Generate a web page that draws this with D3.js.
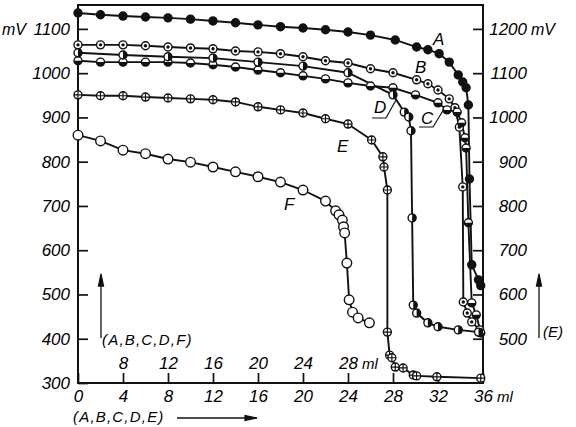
<!DOCTYPE html>
<html>
<head>
<meta charset="utf-8">
<script src="https://cdnjs.cloudflare.com/ajax/libs/d3/7.8.5/d3.min.js"></script>
<style>
  body { margin: 0; background: #fff; }
  svg text { font-family: "Liberation Sans", Arial, sans-serif; font-style: italic; fill: #000; }
</style>
</head>
<body>
<div id="main-canvas"></div>
<script>
// Titration curves, values
// A-D and F: left mV scale, E: right mV scale
// A-E: lower ml scale, F: inner ml scale (shifted by 4 ml)

let mlA = [0, 2, 4, 6, 8, 10, 12, 14, 16, 18, 20, 22, 24, 26, 28.2, 30.1, 31.1, 32.1, 33, 33.8, 34.2, 34.5, 34.7, 34.8, 35, 35.6, 35.8]
let mvA = [1136, 1132, 1129, 1127, 1125, 1122, 1118, 1114, 1109, 1105, 1102, 1098, 1093, 1086, 1075, 1059, 1053, 1044, 1025, 996, 980, 967, 928, 761, 567, 533, 520]

let mlB = [0, 2, 4, 6, 8, 10, 12, 14, 16, 18, 20, 22, 24, 26, 28, 30.1, 31.1, 32, 33, 33.5, 33.9, 34.2, 34.25, 34.6, 35, 35.7]
let mvB = [1064, 1064, 1064, 1062, 1059, 1057, 1055, 1050, 1048, 1044, 1037, 1028, 1023, 1010, 1001, 985, 976, 962, 942, 922, 878, 743, 483, 458, 438, 420]

let mlC = [0, 2, 4, 6, 8, 10, 12, 14, 16, 18, 20, 22, 24, 26, 28, 30, 32, 32.8, 33.7, 34.1, 34.4, 34.5, 34.7, 35, 35.4, 35.8]
let mvC = [1028, 1025, 1025, 1025, 1025, 1023, 1019, 1014, 1007, 1001, 994, 987, 978, 971, 967, 951, 933, 917, 912, 888, 854, 831, 662, 481, 454, 413]

let mlD = [0, 4, 8, 12, 16, 20, 24, 28, 29, 29.4, 29.6, 29.7, 29.8, 30.1, 31.1, 32, 33.8, 35.6]
let mvD = [1046, 1041, 1037, 1034, 1025, 1016, 1001, 951, 912, 901, 870, 673, 476, 458, 436, 427, 420, 415]

let mlE = [0, 2, 4, 6, 8, 10, 12, 14, 16, 18, 20, 22, 24, 26.1, 27.1, 27.2, 27.5, 27.5, 27.7, 27.9, 28.2, 28.9, 29.8, 30.1, 31.9, 35.8]
let mvE = [1051, 1049, 1049, 1046, 1044, 1042, 1040, 1035, 1024, 1017, 1010, 997, 985, 949, 911, 888, 836, 515, 463, 457, 436, 434, 418, 416, 414, 411]

let mlF = [4, 6, 8, 10, 12, 14, 16, 18, 20, 22, 24, 26, 26.9, 27.2, 27.5, 27.6, 27.7, 27.9, 28.1, 28.4, 28.9, 29.9]
let mvF = [860, 847, 826, 818, 806, 799, 788, 777, 766, 754, 736, 711, 689, 680, 668, 653, 639, 571, 488, 460, 447, 436]

// tick labels
let mlTicks = [0, 4, 8, 12, 16, 20, 24, 28, 32, 36]
let mlTicksF = [8, 12, 16, 20, 24, 28]
let mvTicksLeft = [300, 400, 500, 600, 700, 800, 900, 1000, 1100]
let mvTicksRight = [500, 600, 700, 800, 900, 1000, 1100, 1200]

let width = 576, height = 427
let plot = { left: 78, right: 483, top: 5, bottom: 383 }

let svg = d3.select("#main-canvas").append("svg")
    .attr("width", width)
    .attr("height", height)

let x = d3.scaleLinear().domain([0, 36]).range([plot.left, plot.right])
let xF = d3.scaleLinear().domain([4, 40]).range([plot.left, plot.right])
let yL = d3.scaleLinear().domain([300, 1154]).range([plot.bottom, plot.top])
let yR = d3.scaleLinear().domain([400, 1254]).range([plot.bottom, plot.top])

// axes (ticks point inwards)
let gLeft = svg.append("g")
    .attr("transform", `translate(${plot.left},0)`)
    .call(d3.axisLeft(yL).tickValues(mvTicksLeft).tickSize(-10).tickPadding(8).tickFormat(d => d))
let gRight = svg.append("g")
    .attr("transform", `translate(${plot.right},0)`)
    .call(d3.axisRight(yR).tickValues(mvTicksRight).tickSize(-10).tickPadding(8).tickFormat(d => d))
gRight.selectAll("text").attr("text-anchor", "end").attr("x", 44)
let gBottom = svg.append("g")
    .attr("transform", `translate(0,${plot.bottom})`)
    .call(d3.axisBottom(x).tickValues(mlTicks).tickSize(-10).tickPadding(7).tickFormat(d => d))
let gInner = svg.append("g")
    .attr("transform", `translate(0,${plot.bottom})`)
    .call(d3.axisTop(xF).tickValues(mlTicksF).tickSize(0).tickPadding(14).tickFormat(d => d))

svg.selectAll(".domain").remove()
svg.selectAll(".tick line").attr("stroke", "#111").attr("stroke-width", 1.7)
svg.selectAll(".tick text").style("font-size", "17px").style("font-family", null)

// frame
svg.append("rect")
    .attr("x", plot.left).attr("y", plot.top)
    .attr("width", plot.right - plot.left).attr("height", plot.bottom - plot.top)
    .attr("fill", "none").attr("stroke", "#111").attr("stroke-width", 2)

// units
svg.append("text").attr("x", 26).attr("y", yL(1100) + 6).attr("text-anchor", "end").style("font-size", "16px").text("mV")
svg.append("text").attr("x", 531).attr("y", yR(1200) + 6).style("font-size", "16px").text("mV")
svg.append("text").attr("x", x(36) + 14).attr("y", 402).style("font-size", "15px").text("ml")
svg.append("text").attr("x", xF(28) + 14).attr("y", 369).style("font-size", "15px").text("ml")

// series
let series = [
    { name: "A", ml: mlA, mv: mvA, xs: x, ys: yL, mark: "filled" },
    { name: "B", ml: mlB, mv: mvB, xs: x, ys: yL, mark: "dot" },
    { name: "C", ml: mlC, mv: mvC, xs: x, ys: yL, mark: "bottom" },
    { name: "D", ml: mlD, mv: mvD, xs: x, ys: yL, mark: "right" },
    { name: "E", ml: mlE, mv: mvE, xs: x, ys: yR, mark: "cross" },
    { name: "F", ml: mlF, mv: mvF, xs: xF, ys: yL, mark: "open" }
]

series.forEach(s => {
    s.points = s.ml.map((m, i) => [s.xs(m), s.ys(s.mv[i])])
})

let line = d3.line()

svg.append("g").selectAll("path")
    .data(series)
    .enter().append("path")
    .attr("d", d => line(d.points))
    .attr("fill", "none")
    .attr("stroke", "#111")
    .attr("stroke-width", 1.9)

let halfArc = d3.arc().innerRadius(0).outerRadius(4)

series.forEach(s => {
    let r = s.mark === "open" ? 4.8 : 4
    let g = svg.append("g").attr("class", "marks-" + s.name)
    let pts = g.selectAll("g").data(s.points).enter().append("g")
        .attr("transform", p => `translate(${p[0]},${p[1]})`)

    pts.append("circle")
        .attr("r", r)
        .attr("fill", s.mark === "filled" ? "#111" : "#fff")
        .attr("stroke", "#111")
        .attr("stroke-width", 1.4)

    if (s.mark === "dot") {
        pts.append("circle").attr("r", 1.7).attr("fill", "#111")
    }
    if (s.mark === "bottom") {
        pts.append("path").attr("d", halfArc({ startAngle: Math.PI / 2, endAngle: 3 * Math.PI / 2 })).attr("fill", "#111")
    }
    if (s.mark === "right") {
        pts.append("path").attr("d", halfArc({ startAngle: 0, endAngle: Math.PI })).attr("fill", "#111")
    }
    if (s.mark === "cross") {
        pts.append("path").attr("d", `M-${r},0H${r}M0,-${r}V${r}`).attr("stroke", "#111").attr("stroke-width", 1.2)
    }
})

// curve labels
let labels = [
    { t: "A", x: 433, y: 45 },
    { t: "B", x: 415, y: 73 },
    { t: "C", x: 421, y: 124 },
    { t: "D", x: 374, y: 113 },
    { t: "E", x: 337, y: 152 },
    { t: "F", x: 284, y: 210 }
]
svg.append("g").selectAll("text")
    .data(labels)
    .enter().append("text")
    .attr("x", d => d.x).attr("y", d => d.y)
    .style("font-size", "17px")
    .text(d => d.t)

// leaders for C and D
svg.append("path").attr("d", "M372,118H386L396,100").attr("fill", "none").attr("stroke", "#111").attr("stroke-width", 1.2)
svg.append("path").attr("d", "M419,127H433L444,109").attr("fill", "none").attr("stroke", "#111").attr("stroke-width", 1.2)

// axis captions with arrows
svg.append("text").attr("x", 102).attr("y", 345).style("font-size", "15px").style("letter-spacing", "1.2px").text("(A,B,C,D,F)")
svg.append("text").attr("x", 73).attr("y", 422).style("font-size", "15px").style("letter-spacing", "1.2px").text("(A,B,C,D,E)")
svg.append("text").attr("x", 543).attr("y", 337).style("font-size", "15px").text("(E)")

let arrows = svg.append("g").attr("stroke", "#111").attr("fill", "#111").attr("stroke-width", 1.3)
arrows.append("line").attr("x1", 101).attr("y1", 338).attr("x2", 101).attr("y2", 284)
arrows.append("path").attr("d", "M101,274L98.5,286H103.5Z")
arrows.append("line").attr("x1", 539).attr("y1", 338).attr("x2", 539).attr("y2", 284)
arrows.append("path").attr("d", "M539,274L536.5,286H541.5Z")
arrows.append("line").attr("x1", 177).attr("y1", 418).attr("x2", 247).attr("y2", 418)
arrows.append("path").attr("d", "M257,418L245,415.5V420.5Z")
</script>
</body>
</html>
